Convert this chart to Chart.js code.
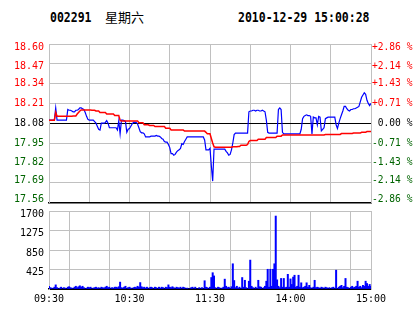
<!DOCTYPE html>
<html>
<head>
<meta charset="utf-8">
<script src="https://cdn.jsdelivr.net/npm/chart.js@4.4.1/dist/chart.umd.min.js"></script>
<style>
  html, body { margin: 0; padding: 0; background: #fff; }
  #wrap { position: relative; width: 414px; height: 314px; overflow: hidden; background: #fff; }
  .hd { position: absolute; top: 9px; font: bold 11.5px "DejaVu Sans Mono", monospace; color: #000;
        transform: scaleY(1.2); transform-origin: left top; white-space: pre; }
  .cn { position: absolute; top: 7px; left: 105px; font: 13px "Noto Sans CJK SC", sans-serif; color: #000; }
  canvas { position: absolute; left: 0; }
</style>
</head>
<body>
<div id="wrap">
  <div class="hd" style="left:50px">002291</div>
  <div class="cn">星期六</div>
  <div class="hd" style="left:238px">2010-12-29 15:00:28</div>
  <canvas id="priceChart" width="414" height="214" style="top:0"></canvas>
  <canvas id="volChart" width="414" height="114" style="top:200px"></canvas>
</div>
<script>
// tick labels
const priceTicks = [18.60, 18.47, 18.34, 18.21, 18.08, 17.95, 17.82, 17.69, 17.56];
const pctTicks = ['+2.86 %', '+2.14 %', '+1.43 %', '+0.71 %', ' 0.00 %', '-0.71 %', '-1.43 %', '-2.14 %', '-2.86 %'];
const volTicks = [0, 425, 850, 1275, 1700];
const timeTicks = ['09:30', '', '10:30', '', '11:30', '', '14:00', '', '15:00'];
const preClose = 18.08;

// one value per trading minute, 09:30 .. 11:30 / 13:00 .. 15:00
const price = [
  18.10, 18.10, 18.10, 18.10, 18.10, 18.18, 18.10, 18.10, 18.10, 18.10,
  18.10, 18.10, 18.10, 18.10, 18.17, 18.165, 18.165, 18.16, 18.155, 18.155,
  18.165, 18.165, 18.17, 18.18, 18.18, 18.175, 18.17, 18.15, 18.125, 18.105,
  18.10, 18.10, 18.10, 18.10, 18.09, 18.08, 18.06, 18.04, 18.035, 18.08,
  18.08, 18.08, 18.085, 18.097, 18.08, 18.05, 18.05, 18.05, 18.05, 18.05,
  18.05, 18.035, 18.095, 18.01, 18.10, 18.10, 18.097, 18.09, 18.02, 18.04,
  18.045, 18.06, 18.075, 18.085, 18.085, 18.085, 18.075, 18.05, 18.025, 18.017,
  18.017, 18.01, 17.99, 17.99, 17.99, 17.99, 17.995, 17.995, 17.995, 17.995,
  18.00, 17.995, 17.995, 17.99, 17.98, 17.975, 17.96, 17.956, 17.956, 17.94,
  17.92, 17.88, 17.88, 17.87, 17.875, 17.89, 17.90, 17.905, 17.915, 17.945,
  17.94, 17.96, 17.975, 17.99, 17.99, 17.99, 17.99, 17.99, 17.99, 17.99,
  17.99, 17.99, 17.99, 17.99, 17.99, 17.99, 17.97, 17.905, 17.905, 17.905,
  17.915, 17.80, 17.70, 17.91, 17.91, 17.91, 17.91, 17.91, 17.91, 17.91,
  17.91, 17.91, 17.895, 17.885, 17.87, 17.875, 17.905, 17.95, 18.005, 18.015,
  18.015, 18.015, 18.015, 18.015, 18.015, 18.015, 18.015, 18.015, 18.015, 18.155,
  18.16, 18.16, 18.165, 18.165, 18.16, 18.165, 18.165, 18.16, 18.16, 18.165,
  18.16, 18.155, 18.10, 18.02, 18.015, 18.015, 18.015, 18.015, 18.015, 18.015,
  18.015, 18.17, 18.18, 18.17, 18.02, 18.01, 18.01, 18.01, 18.01, 18.01,
  18.01, 18.01, 18.01, 18.01, 18.01, 18.01, 18.01, 18.01, 18.04, 18.11,
  18.125, 18.13, 18.135, 18.13, 18.13, 18.125, 18.01, 18.12, 18.115, 18.115,
  18.07, 18.125, 18.12, 18.03, 18.04, 18.05, 18.11, 18.115, 18.12, 18.12,
  18.12, 18.12, 18.12, 18.12, 18.07, 18.045, 18.08, 18.11, 18.135, 18.16,
  18.19, 18.19, 18.175, 18.165, 18.16, 18.17, 18.17, 18.175, 18.175, 18.18,
  18.185, 18.19, 18.22, 18.25, 18.265, 18.28, 18.27, 18.23, 18.21, 18.195,
  18.21
];

const avgPrice = [
  18.10, 18.10, 18.10, 18.10, 18.10, 18.15, 18.125, 18.125, 18.125, 18.125,
  18.125, 18.125, 18.125, 18.125, 18.125, 18.125, 18.125, 18.125, 18.127, 18.127,
  18.127, 18.14, 18.15, 18.16, 18.167, 18.167, 18.167, 18.167, 18.167, 18.167,
  18.167, 18.167, 18.165, 18.165, 18.165, 18.16, 18.16, 18.16, 18.15, 18.15,
  18.15, 18.15, 18.15, 18.14, 18.14, 18.14, 18.14, 18.14, 18.14, 18.13,
  18.13, 18.13, 18.13, 18.10, 18.095, 18.095, 18.095, 18.095, 18.095, 18.095,
  18.095, 18.095, 18.095, 18.095, 18.095, 18.095, 18.095, 18.083, 18.083, 18.083,
  18.083, 18.07, 18.07, 18.07, 18.07, 18.065, 18.065, 18.065, 18.065, 18.058,
  18.058, 18.058, 18.058, 18.058, 18.058, 18.058, 18.058, 18.047, 18.047, 18.047,
  18.047, 18.036, 18.036, 18.036, 18.036, 18.036, 18.036, 18.036, 18.036, 18.036,
  18.036, 18.028, 18.028, 18.028, 18.028, 18.028, 18.028, 18.028, 18.028, 18.028,
  18.028, 18.028, 18.028, 18.028, 18.028, 18.028, 18.028, 18.02, 18.01, 18.01,
  18.01, 17.98, 17.95, 17.925, 17.922, 17.922, 17.922, 17.922, 17.922, 17.922,
  17.922, 17.922, 17.922, 17.922, 17.922, 17.922, 17.922, 17.925, 17.925, 17.925,
  17.925, 17.927, 17.927, 17.935, 17.935, 17.935, 17.935, 17.935, 17.94, 17.96,
  17.966, 17.966, 17.966, 17.966, 17.966, 17.966, 17.975, 17.975, 17.975, 17.975,
  17.975, 17.975, 17.986, 17.986, 17.986, 17.986, 17.986, 17.986, 17.986, 17.986,
  17.995, 17.995, 17.995, 17.995, 18.003, 18.003, 18.003, 18.003, 18.003, 18.003,
  18.003, 18.003, 18.003, 18.003, 18.003, 18.003, 18.003, 18.003, 18.003, 18.003,
  18.003, 18.003, 18.003, 18.003, 18.003, 18.003, 18.003, 18.003, 18.003, 18.003,
  18.003, 18.003, 18.003, 18.003, 18.003, 18.003, 18.006, 18.006, 18.006, 18.006,
  18.006, 18.006, 18.006, 18.006, 18.006, 18.006, 18.006, 18.006, 18.012, 18.012,
  18.012, 18.012, 18.012, 18.012, 18.012, 18.012, 18.012, 18.015, 18.015, 18.015,
  18.015, 18.015, 18.015, 18.02, 18.02, 18.02, 18.02, 18.025, 18.025, 18.025,
  18.025
];

const volume = [
  60, 30, 20, 0, 40, 90, 30, 0, 20, 40,
  0, 30, 20, 0, 40, 50, 30, 20, 0, 40,
  60, 30, 50, 70, 40, 60, 30, 0, 20, 40,
  30, 40, 0, 20, 30, 40, 20, 30, 0, 40,
  30, 20, 40, 60, 30, 40, 0, 30, 20, 40,
  40, 30, 50, 150, 30, 20, 40, 60, 0, 30,
  40, 20, 0, 30, 40, 30, 60, 40, 140, 50,
  30, 40, 20, 40, 0, 30, 40, 30, 0, 40,
  30, 0, 40, 20, 40, 30, 0, 40, 30, 90,
  40, 30, 50, 30, 0, 40, 30, 20, 40, 0,
  40, 30, 0, 20, 0, 0, 30, 40, 0, 40,
  0, 0, 30, 0, 30, 0, 180, 40, 30, 0,
  40, 250, 355, 285, 30, 0, 40, 30, 0, 20,
  40, 215, 60, 30, 40, 0, 50, 550, 185, 30,
  60, 20, 40, 0, 250, 40, 190, 30, 0, 170,
  630, 60, 30, 0, 40, 0, 190, 50, 40, 0,
  30, 60, 170, 430, 40, 430, 60, 430, 550, 1590,
  200, 60, 30, 230, 40, 230, 30, 40, 320, 40,
  220, 100, 260, 300, 40, 60, 300, 40, 135, 30,
  40, 60, 135, 40, 80, 30, 0, 40, 190, 30,
  40, 30, 0, 40, 30, 0, 40, 30, 0, 30,
  0, 30, 40, 0, 410, 0, 40, 60, 80, 30,
  60, 230, 40, 30, 0, 40, 60, 30, 40, 60,
  170, 40, 60, 30, 80, 60, 170, 120, 60, 100,
  60
];

const RED = '#ff0000';
const GREEN = '#006400';
const GRID = '#c0c0c0';
const FONT = { family: 'DejaVu Sans Mono', size: 10 };
// the old terminal squeezes the edge labels into the panel
const labelShift = [3.7, 2.7, 0, 0, 0, 0, 0, -2, -3.3];

function tickColor(v) {
  if (Math.abs(v - preClose) < 1e-6) return '#000';
  return v > preClose ? RED : GREEN;
}

function shifted(text, v) {
  const s = labelShift[priceTicks.indexOf(v)];
  if (s > 0) return ['', text];
  if (s < 0) return [text, ''];
  return text;
}

function shiftFont(size) {
  return ctx => {
    const s = ctx.tick ? labelShift[priceTicks.indexOf(ctx.tick.value)] : 0;
    return { family: 'DejaVu Sans Mono', size, lineHeight: s ? (Math.abs(s) * 2) + 'px' : 1.2 };
  };
}

const xy = arr => arr.map((v, i) => ({ x: i, y: v }));

new Chart(document.getElementById('priceChart'), {
  type: 'line',
  data: {
    datasets: [
      { data: xy(avgPrice), borderColor: RED, borderWidth: 1.5, pointRadius: 0, tension: 0 },
      { data: xy(price), borderColor: '#0000ff', borderWidth: 1.2, pointRadius: 0, tension: 0 }
    ]
  },
  options: {
    responsive: false,
    animation: false,
    layout: { padding: { top: 44, bottom: 3, left: 0, right: 0 } },
    plugins: { legend: { display: false }, tooltip: { enabled: false } },
    scales: {
      x: {
        type: 'linear', min: 0, max: 240,
        ticks: { stepSize: 30, display: false },
        grid: { color: GRID, drawTicks: false },
        border: { color: '#000', width: 1.5 }
      },
      y: {
        position: 'left', min: 17.56, max: 18.60,
        afterBuildTicks: axis => { axis.ticks = priceTicks.slice().reverse().map(v => ({ value: v })); },
        afterFit: axis => { axis.width = 49; },
        ticks: {
          padding: 5, font: shiftFont(10),
          color: ctx => (ctx.tick ? tickColor(ctx.tick.value) : '#000'),
          callback: v => shifted(v.toFixed(2), v)
        },
        grid: {
          drawTicks: false,
          color: ctx => (ctx.tick && (Math.abs(ctx.tick.value - preClose) < 1e-6 || ctx.tick.value === 17.56)) ? '#000' : GRID
        },
        border: { color: GRID }
      },
      y2: {
        position: 'right', min: 17.56, max: 18.60,
        afterBuildTicks: axis => { axis.ticks = priceTicks.slice().reverse().map(v => ({ value: v })); },
        afterFit: axis => { axis.width = 43; },
        ticks: {
          padding: 1, font: shiftFont(9.6),
          color: ctx => (ctx.tick ? tickColor(ctx.tick.value) : '#000'),
          callback: v => shifted(pctTicks[priceTicks.indexOf(v)], v)
        },
        grid: { display: false, drawTicks: false },
        border: { color: GRID }
      }
    }
  }
});

new Chart(document.getElementById('volChart'), {
  type: 'bar',
  data: {
    datasets: [
      { data: xy(volume), backgroundColor: '#0000ff', barPercentage: 1, categoryPercentage: 1 }
    ]
  },
  options: {
    responsive: false,
    animation: false,
    layout: { padding: { top: 9, bottom: 5, left: 0, right: 0 } },
    plugins: { legend: { display: false }, tooltip: { enabled: false } },
    scales: {
      x: {
        type: 'linear', min: 0, max: 240, offset: false,
        afterBuildTicks: axis => { axis.ticks = timeTicks.map((t, i) => ({ value: i * 30 })); },
        ticks: {
          padding: 4, font: FONT, color: '#000', autoSkip: false, maxRotation: 0,
          callback: (v, i) => timeTicks[i]
        },
        grid: { color: GRID, drawTicks: false },
        border: { color: '#000', width: 1.5 }
      },
      y: {
        position: 'left', min: 0, max: 1700,
        afterBuildTicks: axis => { axis.ticks = volTicks.map(v => ({ value: v })); },
        afterFit: axis => { axis.width = 49; },
        ticks: { padding: 5, labelOffset: 3, font: FONT, color: '#000', callback: v => (v === 0 ? '' : v) },
        grid: { drawTicks: false, color: ctx => (ctx.tick && ctx.tick.value === 0 ? '#000' : GRID) },
        border: { color: GRID }
      },
      y2: {
        position: 'right', min: 0, max: 1700,
        afterFit: axis => { axis.width = 43; },
        ticks: { display: false },
        grid: { display: false, drawTicks: false },
        border: { color: GRID }
      }
    }
  }
});
</script>
</body>
</html>
